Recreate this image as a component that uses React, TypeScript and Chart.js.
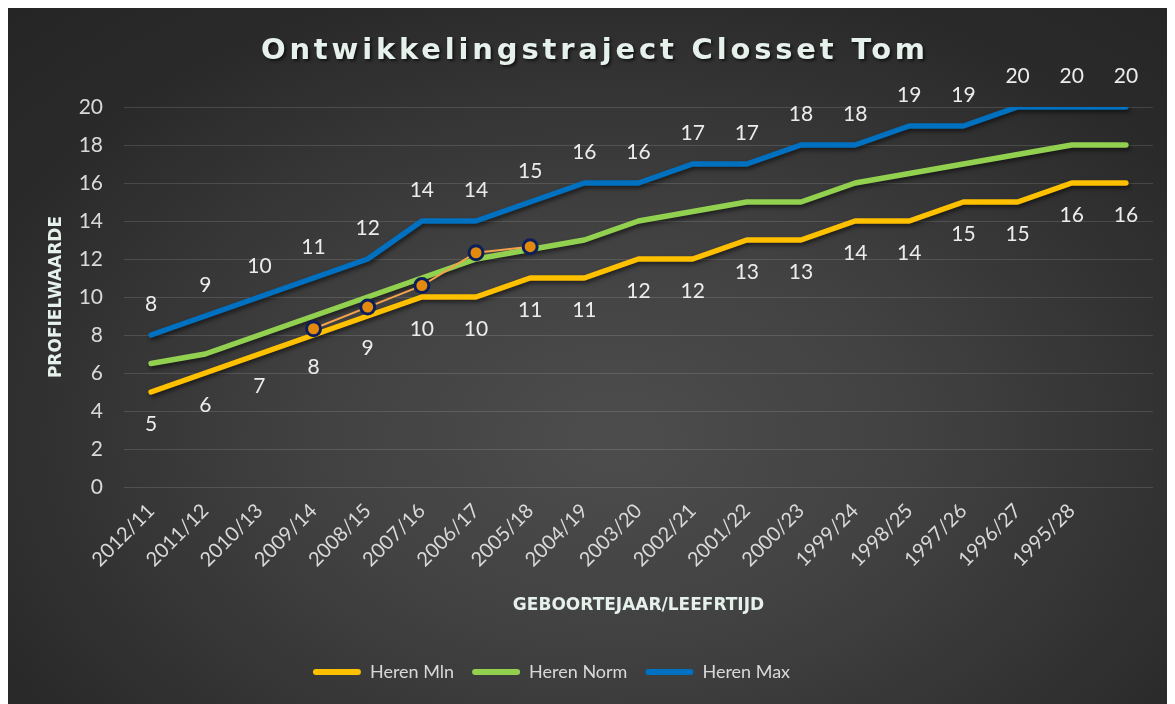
import React, { useEffect, useRef } from "react";
import { Chart, registerables } from "chart.js";

Chart.register(...registerables);

const TITLE = "Ontwikkelingstraject Closset Tom";
const X_TITLE = "GEBOORTEJAAR/LEEFRTIJD";
const Y_TITLE = "PROFIELWAARDE";

const categories = [
  "2012/11", "2011/12", "2010/13", "2009/14", "2008/15", "2007/16",
  "2006/17", "2005/18", "2004/19", "2003/20", "2002/21", "2001/22",
  "2000/23", "1999/24", "1998/25", "1997/26", "1996/27", "1995/28", "",
];
const herenMin = [5, 6, 7, 8, 9, 10, 10, 11, 11, 12, 12, 13, 13, 14, 14, 15, 15, 16, 16];
const herenNorm = [6.5, 7, 8, 9, 10, 11, 12, 12.5, 13, 14, 14.5, 15, 15, 16, 16.5, 17, 17.5, 18, 18];
const herenMax = [8, 9, 10, 11, 12, 14, 14, 15, 16, 16, 17, 17, 18, 18, 19, 19, 20, 20, 20];
const tomScores = [null, null, null, 8.33, 9.47, 10.6, 12.33, 12.65, null, null, null, null, null, null, null, null, null, null, null];

const Y_MIN = 0;
const Y_MAX = 20;
const Y_STEP = 2;

const COLOR_MIN = "#FFC000";
const COLOR_NORM = "#92D050";
const COLOR_MAX = "#0070C0";
const TEXT = "#d9d9d9";
const TITLE_COLOR = "#e6f1ec";
const FONT = "Lato, 'Noto Sans', sans-serif";
const BOLD_FONT = "'DejaVu Sans', Lato, sans-serif";

const shadowPlugin = {
  id: "lineShadow",
  beforeDatasetDraw(chart: any, args: any) {
    const ctx = chart.ctx;
    ctx.save();
    if (args.index < 3) {
      ctx.shadowColor = "rgba(0,0,0,0.55)";
      ctx.shadowBlur = 4;
      ctx.shadowOffsetX = 1.5;
      ctx.shadowOffsetY = 2.5;
    }
  },
  afterDatasetDraw(chart: any) {
    chart.ctx.restore();
  },
};

const labelPlugin = {
  id: "valueLabels",
  afterDatasetsDraw(chart: any) {
    const ctx = chart.ctx;
    ctx.save();
    ctx.font = `21px ${FONT}`;
    ctx.fillStyle = "#ececec";
    ctx.textAlign = "center";
    ctx.textBaseline = "middle";
    const conf = [
      { idx: 0, dy: 32 },
      { idx: 2, dy: -31 },
    ];
    conf.forEach(({ idx, dy }) => {
      const meta = chart.getDatasetMeta(idx);
      const data = chart.data.datasets[idx].data;
      meta.data.forEach((pt: any, i: number) => {
        if (data[i] == null) return;
        ctx.fillText(String(data[i]), pt.x, pt.y + dy);
      });
    });
    ctx.restore();
  },
};

const titlePlugin = {
  id: "spacedTitle",
  afterDraw(chart: any) {
    const ctx = chart.ctx;
    ctx.save();
    ctx.font = `bold 29px ${BOLD_FONT}`;
    const w = ctx.measureText(TITLE).width;
    const spacing = Math.max(0, (668 - w) / TITLE.length);
    (ctx as any).letterSpacing = `${spacing}px`;
    ctx.fillStyle = TITLE_COLOR;
    ctx.textAlign = "center";
    ctx.textBaseline = "middle";
    ctx.shadowColor = "rgba(0,0,0,0.6)";
    ctx.shadowBlur = 3;
    ctx.shadowOffsetX = 2;
    ctx.shadowOffsetY = 2;
    ctx.fillText(TITLE, chart.width / 2 + 2 + spacing / 2, 45);
    ctx.restore();
  },
};

const legendShiftPlugin = {
  id: "legendShift",
  afterLayout(chart: any) {
    if (chart.legend) {
      chart.legend.left -= 48;
      chart.legend.right -= 48;
    }
  },
};

export default function App() {
  const ref = useRef<HTMLCanvasElement | null>(null);

  useEffect(() => {
    if (!ref.current) return;
    const lineStyle = {
      borderWidth: 5.5,
      borderCapStyle: "round",
      borderJoinStyle: "round",
      pointRadius: 0,
      tension: 0,
    };
    const chart = new Chart(ref.current, {
      type: "line",
      data: {
        labels: categories,
        datasets: [
          { label: "Heren Mln", data: herenMin, borderColor: COLOR_MIN, backgroundColor: COLOR_MIN, order: 3, ...lineStyle },
          { label: "Heren Norm", data: herenNorm, borderColor: COLOR_NORM, backgroundColor: COLOR_NORM, order: 2, ...lineStyle },
          { label: "Heren Max", data: herenMax, borderColor: COLOR_MAX, backgroundColor: COLOR_MAX, order: 1, ...lineStyle },
          {
            label: "Tom",
            data: tomScores,
            borderColor: "#F4A24C",
            backgroundColor: "#E38A0E",
            borderWidth: 2,
            pointRadius: 7,
            pointBorderWidth: 3,
            pointBorderColor: "#0D1F5A",
            pointBackgroundColor: "#E38A0E",
            tension: 0,
            order: 0,
          },
        ],
      },
      options: {
        animation: false,
        responsive: false,
        maintainAspectRatio: false,
        layout: { padding: { top: 101, right: 21, left: 38, bottom: 13 } },
        plugins: {
          title: { display: false },
          tooltip: { enabled: false },
          legend: {
            position: "bottom",
            labels: {
              color: TEXT,
              font: { family: FONT, size: 18 },
              boxWidth: 48,
              boxHeight: 6,
              padding: 18,
              useBorderRadius: true,
              borderRadius: 3,
              generateLabels: (c: any) =>
                c.data.datasets.slice(0, 3).map((ds: any, i: number) => ({
                  text: ds.label,
                  fillStyle: ds.borderColor,
                  strokeStyle: ds.borderColor,
                  lineWidth: 0,
                  hidden: !c.isDatasetVisible(i),
                  datasetIndex: i,
                  borderRadius: 3,
                  fontColor: TEXT,
                })),
            },
          },
        },
        scales: {
          x: {
            offset: true,
            grid: { display: false, drawTicks: false },
            border: { display: false },
            afterFit: (s: any) => {
              s.paddingLeft = 0;
              s.paddingRight = 0;
            },
            ticks: {
              color: TEXT,
              font: { family: FONT, size: 20 },
              minRotation: 45,
              maxRotation: 45,
              autoSkip: false,
              padding: 12,
            },
            title: {
              display: true,
              text: X_TITLE,
              color: TITLE_COLOR,
              font: { family: BOLD_FONT, size: 17, weight: "bold" },
              padding: { top: 12, bottom: 29 },
            },
          },
          y: {
            min: Y_MIN,
            max: Y_MAX,
            grid: { color: "rgba(255,255,255,0.13)", drawTicks: false, lineWidth: 1 },
            border: { display: false },
            afterFit: (s: any) => {
              s.width = 78;
            },
            ticks: {
              stepSize: Y_STEP,
              color: TEXT,
              font: { family: FONT, size: 21 },
              padding: 21,
            },
            title: {
              display: true,
              text: Y_TITLE,
              color: TITLE_COLOR,
              font: { family: BOLD_FONT, size: 17, weight: "bold" },
              padding: { top: 0, bottom: 10 },
            },
          },
        },
      },
      plugins: [shadowPlugin, labelPlugin, titlePlugin, legendShiftPlugin],
    } as any);
    return () => chart.destroy();
  }, []);

  return (
    <div
      style={{
        width: 1166,
        height: 698,
        marginTop: -2,
        background:
          "radial-gradient(ellipse 75% 85% at 52% 62%, #4d4d4d 0%, #414141 35%, #2a2a2a 78%, #252525 100%)",
      }}
    >
      <canvas ref={ref} width={1166} height={698} style={{ display: "block" }} />
    </div>
  );
}
